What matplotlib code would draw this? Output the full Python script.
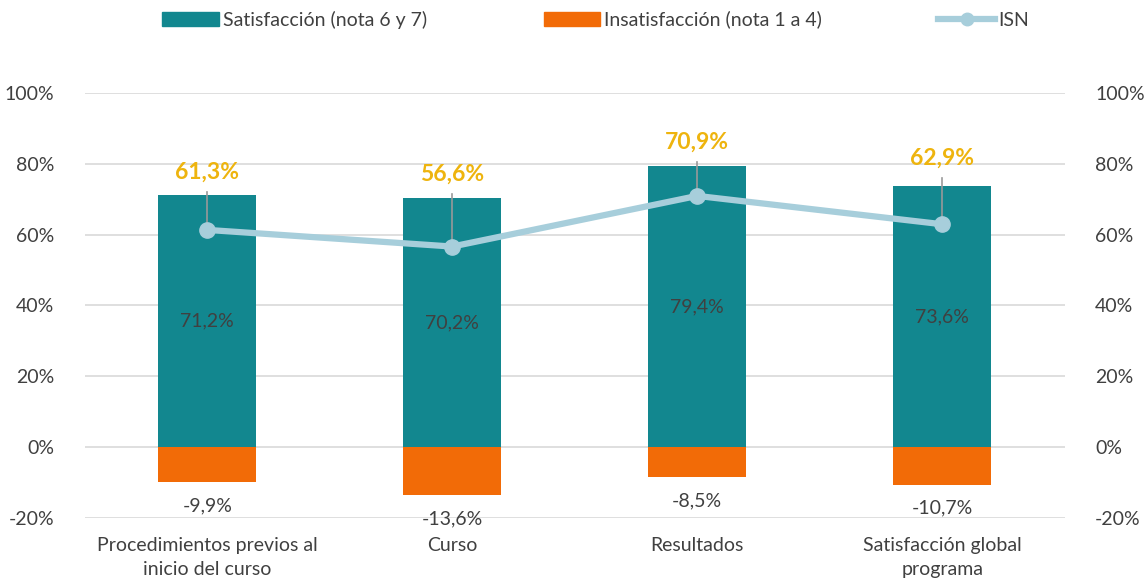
import matplotlib
matplotlib.use("Agg")
import matplotlib.pyplot as plt
from matplotlib.patches import Patch
from matplotlib.lines import Line2D

plt.rcParams["font.family"] = ["Lato", "DejaVu Sans"]

# data
categories = ["Procedimientos previos al\ninicio del curso", "Curso",
              "Resultados", "Satisfacción global\nprograma"]
satisfaccion = [71.2, 70.2, 79.4, 73.6]
insatisfaccion = [-9.9, -13.6, -8.5, -10.7]
isn = [61.3, 56.6, 70.9, 62.9]
isn_label_y = [77.5, 77.0, 86.0, 81.5]

TEAL = "#12878F"
ORANGE = "#F26B07"
LIGHTBLUE = "#A7CEDB"
GOLD = "#EEB40E"
TEXT = "#404040"

fig = plt.figure(figsize=(11.46, 5.8), dpi=100)
ax = fig.add_axes([0.074, 0.107, 0.855, 0.733])
x = list(range(len(categories)))

ax.bar(x, satisfaccion, width=0.4, color=TEAL, zorder=2)
ax.bar(x, insatisfaccion, width=0.4, color=ORANGE, zorder=2)
ax.plot(x, isn, color=LIGHTBLUE, lw=4.5, marker="o", ms=11, zorder=4)

for i in x:
    ax.text(i, satisfaccion[i] / 2, f"{satisfaccion[i]:.1f}%".replace(".", ","),
            ha="center", va="center", fontsize=14, color=TEXT, zorder=5)
    ax.text(i, insatisfaccion[i] - 4.2, f"{insatisfaccion[i]:.1f}%".replace(".", ","),
            ha="center", va="top", fontsize=14, color=TEXT, zorder=5)
    ax.plot([i, i], [isn[i], isn_label_y[i] - 5.5], color="#999999", lw=1.2, zorder=3)
    ax.text(i, isn_label_y[i], f"{isn[i]:.1f}%".replace(".", ","),
            ha="center", va="center", fontsize=16.5, fontweight="bold", color=GOLD, zorder=5)

yticks = [-20, 0, 20, 40, 60, 80, 100]
ylabels = [f"{t}%" for t in yticks]
ax.set_ylim(-20, 100)
ax.set_xlim(-0.5, 3.5)
ax.set_yticks(yticks)
ax.set_yticklabels(ylabels)
ax.set_xticks(x)
ax.set_xticklabels(categories, linespacing=1.45)
ax.grid(axis="y", color="#D9D9D9", lw=1.2, zorder=0)
ax.set_axisbelow(True)
ax.tick_params(length=0, labelsize=14, colors=TEXT)
ax.tick_params(axis="y", pad=22)
ax.tick_params(axis="x", pad=14)
for s in ax.spines.values():
    s.set_visible(False)

ax2 = ax.twinx()
ax2.set_ylim(-20, 100)
ax2.set_yticks(yticks)
ax2.set_yticklabels(ylabels)
ax2.tick_params(length=0, labelsize=14, colors=TEXT, pad=22)
for s in ax2.spines.values():
    s.set_visible(False)

handles = [
    Patch(color=TEAL, label="Satisfacción (nota 6 y 7)"),
    Patch(color=ORANGE, label="Insatisfacción (nota 1 a 4)"),
    Line2D([0], [0], color=LIGHTBLUE, lw=4.5, marker="o", ms=9, label="ISN"),
]
leg = fig.legend(handles=handles, loc="upper center", bbox_to_anchor=(0.52, 1.012),
                 ncol=3, frameon=False, fontsize=14, handlelength=2.9, handleheight=0.75,
                 handletextpad=0.2, columnspacing=6.0)
for t in leg.get_texts():
    t.set_color(TEXT)

fig.savefig("out.png", dpi=100)
